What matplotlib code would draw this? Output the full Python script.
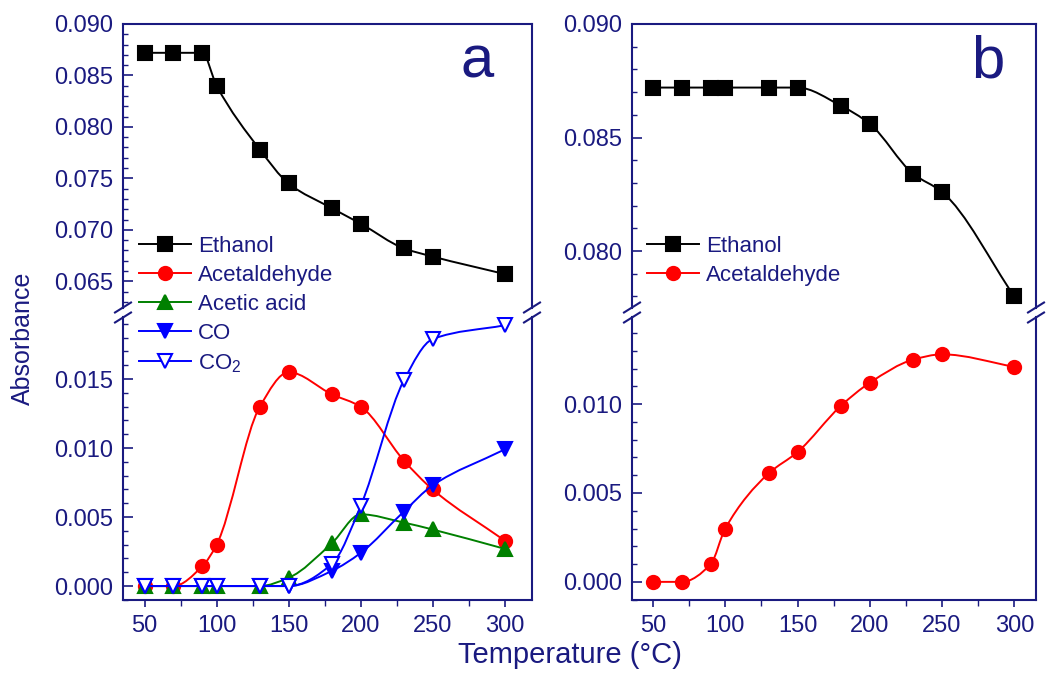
import numpy as np
import matplotlib
matplotlib.use('Agg')
import matplotlib.pyplot as plt
from matplotlib.path import Path
from matplotlib.patches import PathPatch
from matplotlib.lines import Line2D
from matplotlib.ticker import MultipleLocator, FormatStrFormatter

plt.rcParams['font.family'] = ['Liberation Sans', 'DejaVu Sans']
plt.rcParams['mathtext.default'] = 'regular'

navy = '#1a1a80'

# temperatures (C) at which spectra were taken
temps = [50, 70, 90, 100, 130, 150, 180, 200, 230, 250, 300]

# panel a
ethanol_a = [0.0872, 0.0872, 0.0872, 0.0840, 0.0778, 0.0745, 0.0721, 0.0706, 0.0682, 0.0674, 0.0657]
acetaldehyde_a = [0.0, 0.0, 0.00143, 0.0030, 0.0130, 0.0155, 0.0139, 0.0130, 0.0091, 0.0070, 0.0033]
acetic_a = [0.0, 0.0, 0.0, 0.0, 0.0, 0.0006, 0.0031, 0.0052, 0.0046, 0.0041, 0.0027]
co_a = [0.0, 0.0, 0.0, 0.0, 0.0, 0.0, 0.0011, 0.0024, 0.0054, 0.0073, 0.0099]
co2_a = [0.0, 0.0, 0.0, 0.0, 0.0, 0.0, 0.0016, 0.0058, 0.0149, 0.0179, 0.0189]

# panel b
ethanol_b = [0.0872, 0.0872, 0.0872, 0.0872, 0.0872, 0.0872, 0.0864, 0.0856, 0.0834, 0.0826, 0.0780]
acetaldehyde_b = [0.0, 0.0, 0.0010, 0.0030, 0.0061, 0.0073, 0.0099, 0.0112, 0.0125, 0.0128, 0.0121]


def smooth_path(x, y):
    # monotone cubic through the points, drawn as bezier segments
    x = np.asarray(x, float)
    y = np.asarray(y, float)
    h = np.diff(x)
    d = np.diff(y) / h
    m = np.zeros_like(x)
    m[0], m[-1] = d[0], d[-1]
    for k in range(1, len(x) - 1):
        if d[k - 1] * d[k] > 0:
            w1 = 2 * h[k] + h[k - 1]
            w2 = h[k] + 2 * h[k - 1]
            m[k] = (w1 + w2) / (w1 / d[k - 1] + w2 / d[k])
    verts = [(x[0], y[0])]
    codes = [Path.MOVETO]
    for k in range(len(x) - 1):
        verts += [(x[k] + h[k] / 3, y[k] + m[k] * h[k] / 3),
                  (x[k + 1] - h[k] / 3, y[k + 1] - m[k + 1] * h[k] / 3),
                  (x[k + 1], y[k + 1])]
        codes += [Path.CURVE4] * 3
    return Path(verts, codes)


def series(ax, x, y, color, marker, label, z, mfc=None):
    mfc = color if mfc is None else mfc
    ax.add_patch(PathPatch(smooth_path(x, y), fill=False, edgecolor=color, lw=1.4, zorder=z))
    ax.plot(x, y, ls='none', marker=marker, ms=9.5, mfc=mfc, mec=color, mew=1.5, zorder=z + 0.05)
    return Line2D([], [], color=color, lw=1.4, marker=marker, ms=9.5, mfc=mfc, mec=color,
                  mew=1.5, label=label)


fig = plt.figure(figsize=(10.48, 6.75), dpi=100)
W, H = 1048, 675


def px_axes(l, t, r, b):
    return fig.add_axes([l / W, 1 - b / H, (r - l) / W, (b - t) / H])


def style(ax, upper, xlim, ylim):
    for s in ax.spines.values():
        s.set_color(navy)
        s.set_linewidth(1.5)
    ax.set_xlim(*xlim)
    ax.set_ylim(*ylim)
    ax.yaxis.set_major_locator(MultipleLocator(0.005))
    ax.yaxis.set_minor_locator(MultipleLocator(0.001))
    ax.yaxis.set_major_formatter(FormatStrFormatter('%.3f'))
    ax.tick_params(axis='y', which='major', direction='in', length=7, width=1.2,
                   colors=navy, labelsize=17, pad=7)
    ax.tick_params(axis='y', which='minor', direction='in', length=3.5, width=1.0, colors=navy)
    if upper:
        ax.spines['bottom'].set_visible(False)
        ax.tick_params(axis='x', which='both', bottom=False, labelbottom=False)
    else:
        ax.spines['top'].set_visible(False)
        ax.xaxis.set_major_locator(MultipleLocator(50))
        ax.xaxis.set_minor_locator(MultipleLocator(25))
        ax.tick_params(axis='x', which='major', direction='out', length=5, width=1.2,
                       colors=navy, labelsize=17, pad=6)
        ax.tick_params(axis='x', which='minor', direction='out', length=4, width=1.0, colors=navy)


def break_marks(x_px):
    for yc in (307.5, 317.5):
        fig.add_artist(Line2D([(x_px - 8) / W, (x_px + 8) / W],
                              [1 - (yc + 5) / H, 1 - (yc - 5) / H],
                              color=navy, lw=1.5, transform=fig.transFigure))


a_top = px_axes(123, 24, 532, 308)
a_bot = px_axes(123, 317, 532, 600)
b_top = px_axes(632, 24, 1036, 308)
b_bot = px_axes(632, 317, 1036, 600)

style(a_top, True, (35, 319), (0.0624, 0.090))
style(a_bot, False, (35, 319), (-0.00101, 0.0195))
style(b_top, True, (35.5, 315), (0.07749, 0.090))
style(b_bot, False, (35.5, 315), (-0.00102, 0.0149))

# panel a
h_a = [series(a_top, temps, ethanol_a, 'black', 's', 'Ethanol', 2.0),
       series(a_bot, temps, acetaldehyde_a, '#ff0000', 'o', 'Acetaldehyde', 2.1),
       series(a_bot, temps, acetic_a, '#008000', '^', 'Acetic acid', 2.2),
       series(a_bot, temps, co_a, '#0000ff', 'v', 'CO', 2.3),
       series(a_bot, temps, co2_a, '#0000ff', 'v', 'CO$_2$', 2.4, mfc='white')]

# panel b
h_b = [series(b_top, temps, ethanol_b, 'black', 's', 'Ethanol', 2.0),
       series(b_bot, temps, acetaldehyde_b, '#ff0000', 'o', 'Acetaldehyde', 2.1)]

for x_px in (123, 532, 632, 1036):
    break_marks(x_px)

leg_kw = dict(loc='upper left', frameon=False, fontsize=16, handlelength=2.35,
              handletextpad=0.3, labelspacing=0.36, borderpad=0, borderaxespad=0,
              labelcolor=navy)
fig.legend(handles=h_a, bbox_to_anchor=(139 / W, 1 - 236 / H), **leg_kw)
fig.legend(handles=h_b, bbox_to_anchor=(647 / W, 1 - 236 / H), **leg_kw)

fig.text(477 / W, 1 - 78 / H, 'a', fontsize=43, color=navy, ha='center', va='baseline')
fig.text(988 / W, 1 - 78 / H, 'b', fontsize=43, color=navy, ha='center', va='baseline')

fig.text(23 / W, 1 - 338 / H, 'Absorbance', rotation=90, fontsize=18, color=navy,
         ha='center', va='center')
fig.text(570 / W, 1 - 655 / H, 'Temperature (°C)', fontsize=21, color=navy,
         ha='center', va='center')

fig.savefig('out.png', dpi=100)
